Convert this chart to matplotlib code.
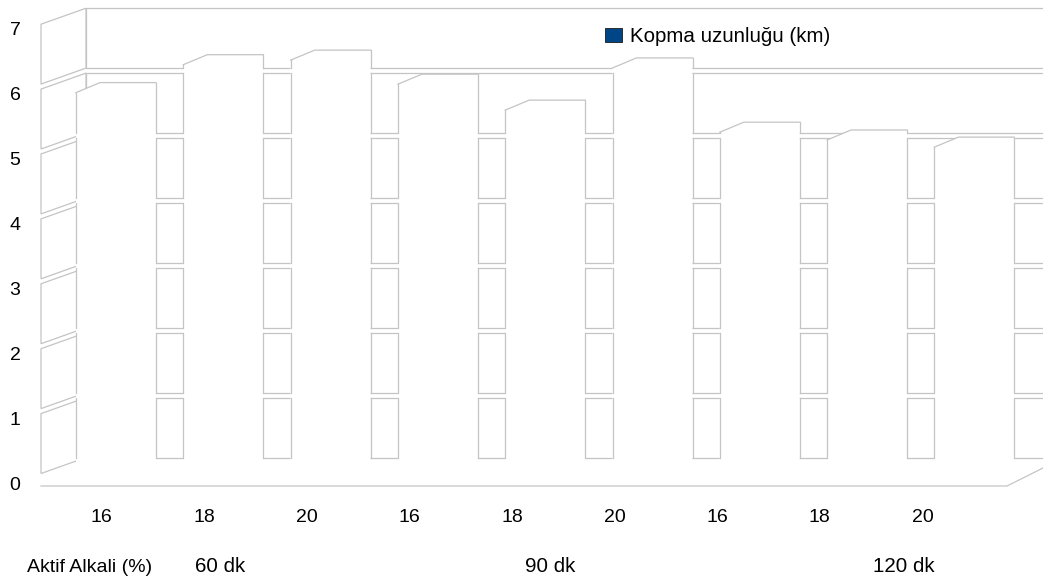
import matplotlib
matplotlib.use("Agg")
import matplotlib.pyplot as plt
from matplotlib.patches import Polygon, Rectangle

plt.rcParams['font.family'] = ['Liberation Sans', 'DejaVu Sans']

# data
aktif_alkali = ["16", "18", "20", "16", "18", "20", "16", "18", "20"]
sure_gruplari = ["60 dk", "90 dk", "120 dk"]
kopma_uzunlugu = [6.0, 6.43, 6.5, 6.13, 5.73, 6.38, 5.39, 5.27, 5.16]
y_ticks = [0, 1, 2, 3, 4, 5, 6, 7]
seri_adi = "Kopma uzunluğu (km)"
eksen_basligi = "Aktif Alkali (%)"

# canvas / pseudo 3D geometry (pixels)
W, H = 1043, 579
X0, SX = 128.0, 107.3   # centre of bar 0 (back plane) and bar pitch
Y0, SY = 460.0, 64.9    # back wall zero level and px per unit

def px_x(p):
    return (p - X0) / SX

def px_y(p):
    return (Y0 - p) / SY

fig = plt.figure(figsize=(W / 100, H / 100), dpi=100)
ax = fig.add_axes([0, 0, 1, 1])
ax.set_xlim(px_x(0), px_x(W))
ax.set_ylim(px_y(H), px_y(0))
ax.axis("off")

grid_c = "#c4c4c4"
lw = 0.9
d = 2.5 / SY            # half gap at each gridline

# back wall bands
wall_left = px_x(86)
wall_right = px_x(W + 20)
for k in y_ticks[:-1]:
    ax.add_patch(Rectangle((wall_left, k + d), wall_right - wall_left, 1 - 2 * d,
                           fc="white", ec=grid_c, lw=lw, zorder=1))

# left wall bands
lw_front = px_x(41)
drop = 16 / SY
for k in y_ticks[:-1]:
    ax.add_patch(Polygon([(lw_front, k + d - drop), (wall_left, k + d),
                          (wall_left, k + 1 - d), (lw_front, k + 1 - d - drop)],
                         closed=True, fc="white", ec=grid_c, lw=lw, zorder=1))

# floor edge
floor_y = px_y(486)
floor_right = px_x(1007)
ax.plot([lw_front, floor_right, floor_right + 52 / SX],
        [floor_y, floor_y, floor_y + 26 / SY], color=grid_c, lw=lw, zorder=1)

# bars (white faces, only outlines visible)
half = 28 / SX
bdy = 12 / SY
fdx, fdy = 24 / SX, 10 / SY
for i, v in enumerate(kopma_uzunlugu):
    xl, xr = i - half, i + half
    yt = v - bdy
    xf, yf = xl - fdx, yt - fdy
    ax.add_patch(Polygon([(xf, -bdy - fdy), (xf, yf), (xl, yt), (xr, yt), (xr, -bdy - fdy)],
                         closed=True, fc="white", ec="none", zorder=2))
    ax.plot([xf, xl, xr], [yf, yt, yt], color=grid_c, lw=lw, zorder=3)
    for xv, ytop in ((xf, yf), (xr, yt)):
        for k in y_ticks[:-1]:
            lo, hi = k + d, min(k + 1 - d, ytop)
            if hi > lo:
                ax.plot([xv, xv], [lo, hi], color=grid_c, lw=lw, zorder=3)

# y tick labels (front plane)
for k in y_ticks:
    ax.text(px_x(15), k + px_y(489.5), str(k), ha="center", va="baseline", fontsize=14)

# category labels (front plane)
lab_x0, lab_dx = px_x(101.6), 102.6 / SX
for i, lab in enumerate(aktif_alkali):
    ax.text(lab_x0 + i * lab_dx, px_y(522), lab, ha="center", va="baseline", fontsize=14)

ax.text(px_x(27), px_y(571.5), eksen_basligi, ha="left", va="baseline", fontsize=14)
for gx, g in zip([220, 550, 903.5], sure_gruplari):
    ax.text(px_x(gx), px_y(571.5), g, ha="center", va="baseline", fontsize=14.8)

# legend
ax.add_patch(Rectangle((px_x(605), px_y(42)), 17 / SX, 14 / SY,
                       fc="#004586", ec="#1a1a1a", lw=0.6, zorder=5))
ax.text(px_x(630), px_y(42.3), seri_adi, ha="left", va="baseline", fontsize=14.8)

fig.savefig("out.png", dpi=100)
